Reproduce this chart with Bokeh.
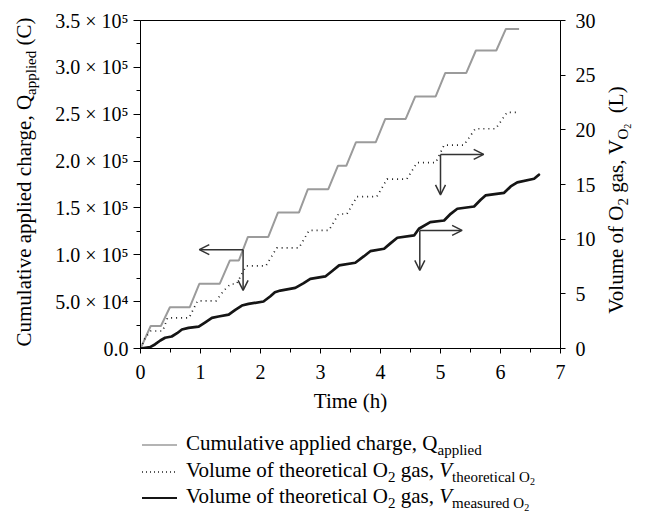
from bokeh.plotting import figure
from bokeh.layouts import row, column
from bokeh.models import Range1d, LinearAxis, FixedTicker, Arrow, OpenHead, Div
from bokeh.embed import file_html
from bokeh.resources import INLINE

# ---------------- data ----------------
time_q = [0, 0.17, 0.34, 0.49, 0.82, 0.98, 1.32, 1.49, 1.64, 1.79, 2.13, 2.29, 2.64, 2.79,
          3.13, 3.29, 3.43, 3.59, 3.92, 4.08, 4.42, 4.58, 4.92, 5.08, 5.43, 5.59, 5.93, 6.09, 6.31]
q_applied = [0, 24000, 24000, 44000, 44000, 69000, 69000, 94000, 94000, 119000, 119000,
             145000, 145000, 170000, 170000, 195000, 195000, 220000, 220000, 245000, 245000,
             269000, 269000, 294000, 294000, 318000, 318000, 341000, 341000]

time_theo = [0, 0.08, 0.17, 0.37, 0.45, 0.81, 0.95, 1.26, 1.39, 1.5, 1.6, 1.76, 2.09, 2.27,
             2.64, 2.81, 3.14, 3.3, 3.44, 3.61, 3.94, 4.11, 4.44, 4.61, 4.92, 5.06, 5.39,
             5.58, 5.92, 6.11, 6.28]
v_theoretical = [0, 1.0, 1.6, 1.6, 2.8, 2.8, 4.35, 4.35, 5.3, 5.9, 5.9, 7.55, 7.55, 9.2,
                 9.2, 10.8, 10.8, 12.3, 12.3, 13.9, 13.9, 15.5, 15.5, 17.0, 17.0, 18.6, 18.6,
                 20.1, 20.1, 21.6, 21.6]

time_meas = [0, 0.16, 0.24, 0.33, 0.41, 0.52, 0.61, 0.69, 0.8, 0.97, 1.08, 1.19, 1.3, 1.47,
             1.58, 1.69, 1.8, 2.05, 2.16, 2.24, 2.33, 2.58, 2.72, 2.83, 3.08, 3.19, 3.31, 3.58,
             3.72, 3.83, 4.06, 4.17, 4.28, 4.56, 4.64, 4.83, 5.06, 5.17, 5.28, 5.56, 5.67, 5.75,
             6.06, 6.17, 6.28, 6.56, 6.64]
v_measured = [0, 0.12, 0.37, 0.73, 0.98, 1.1, 1.4, 1.74, 1.89, 2.0, 2.4, 2.8, 2.93, 3.1,
              3.54, 3.93, 4.08, 4.3, 4.76, 5.15, 5.3, 5.55, 5.98, 6.37, 6.59, 7.07, 7.6, 7.84,
              8.42, 8.9, 9.12, 9.64, 10.13, 10.34, 10.95, 11.56, 11.71, 12.32, 12.78, 12.99,
              13.6, 14.0, 14.24, 14.82, 15.2, 15.53, 15.9]

time_ticks = [0, 1, 2, 3, 4, 5, 6, 7]
time_minor = [0.5, 1.5, 2.5, 3.5, 4.5, 5.5, 6.5]
q_ticks = [0, 50000, 100000, 150000, 200000, 250000, 300000, 350000]
q_minor = [25000, 75000, 125000, 175000, 225000, 275000, 325000]
q_tick_labels = ["0.0", "5.0 × 10⁴", "1.0 × 10⁵", "1.5 × 10⁵", "2.0 × 10⁵",
                 "2.5 × 10⁵", "3.0 × 10⁵", "3.5 × 10⁵"]
v_ticks = [0, 5, 10, 15, 20, 25, 30]

# arrow annotations: (corner time, corner value, horizontal end time, vertical end value)
arrow_q = (1.71, 105500, 0.98, 62000)
arrow_theo = (5.0, 17.75, 5.72, 14.05)
arrow_meas = (4.655, 10.8, 5.36, 7.14)

# ---------------- layout (page pixels) ----------------
FONT = "Liberation Serif"
PAGE_W, PAGE_H = 651, 518
LEFT_W, RIGHT_W = 44, 46
MAIN_W = PAGE_W - LEFT_W - RIGHT_W
TOP_H = 425
LEG_H = PAGE_H - TOP_H
FL, FR, FT, FB = 140, 560, 20, 348          # frame edges in page pixels

# ---------------- main chart ----------------
p = figure(width=MAIN_W, height=TOP_H, x_range=Range1d(0, 7), y_range=Range1d(0, 350000),
           output_backend="svg", toolbar_location=None,
           min_border_left=FL - LEFT_W, min_border_right=LEFT_W + MAIN_W - FR,
           min_border_top=FT, min_border_bottom=TOP_H - FB)
p.extra_y_ranges = {"v": Range1d(0, 30)}
p.xgrid.visible = False
p.ygrid.visible = False
p.outline_line_color = "black"
p.outline_line_width = 1
p.outline_line_alpha = 1
p.background_fill_color = "white"
p.border_fill_color = "white"


def style_axis(ax, tick_out, minor_out, standoff):
    ax.axis_line_color = "black"
    ax.axis_line_width = 1
    ax.major_tick_line_color = "black"
    ax.minor_tick_line_color = "black"
    ax.major_tick_in = 0
    ax.major_tick_out = tick_out
    ax.minor_tick_in = 0
    ax.minor_tick_out = minor_out
    ax.major_label_text_font = FONT
    ax.major_label_text_font_size = "20px"
    ax.major_label_text_color = "black"
    ax.major_label_standoff = standoff


xa = p.xaxis[0]
xa.ticker = FixedTicker(ticks=time_ticks, minor_ticks=time_minor)
style_axis(xa, 5, 4, 11)
xa.axis_label = "Time (h)"
xa.axis_label_text_font = FONT
xa.axis_label_text_font_size = "21px"
xa.axis_label_text_font_style = "normal"
xa.axis_label_text_color = "black"
xa.axis_label_standoff = 7

ya = p.yaxis[0]
ya.ticker = FixedTicker(ticks=q_ticks, minor_ticks=q_minor)
ya.major_label_overrides = dict(zip(q_ticks, q_tick_labels))
style_axis(ya, 7, 4, 5)

ra = LinearAxis(y_range_name="v", ticker=FixedTicker(ticks=v_ticks))
style_axis(ra, 5, 0, 10)
p.add_layout(ra, "right")

p.line(time_q, q_applied, line_color="#9b9b9b", line_width=2)
p.line(time_theo, v_theoretical, y_range_name="v", line_color="#1e1e1e",
       line_width=1.7, line_dash="1 4")
p.line(time_meas, v_measured, y_range_name="v", line_color="#151515",
       line_width=2.7, line_join="round", line_cap="round")

ARROW_C = "#333333"


def add_arrows(spec, range_name):
    ct, cv, ht, vv = spec
    kw = dict(line_color=ARROW_C, line_width=1.5)
    if range_name:
        kw["y_range_name"] = range_name
    for xe, ye in ((ht, cv), (ct, vv)):
        p.add_layout(Arrow(end=OpenHead(size=10, line_color=ARROW_C, line_width=1.5),
                           x_start=ct, y_start=cv, x_end=xe, y_end=ye, **kw))


add_arrows(arrow_q, None)
add_arrows(arrow_theo, "v")
add_arrows(arrow_meas, "v")

# ---------------- HTML text with sub-scripts ----------------
F, S, SS = 21, 15, 10
BASE = 17.6      # baseline offset from the top of a 21px line box
TEXT_CSS = (f"white-space:nowrap;font-family:'{FONT}';font-size:{F}px;"
            f"line-height:{F}px;color:black;")


def sub(t, size=S, drop=5):
    return (f'<span style="font-size:{size}px;position:relative;top:{drop}px;">'
            f'{t}</span>')


def rotated_title(inner, w, h, left, center_y):
    html = (f'<div style="position:relative;width:{w}px;height:{h}px;overflow:visible;">'
            f'<div style="position:absolute;left:{left:.1f}px;top:{center_y}px;'
            f'transform-origin:0 0;transform:rotate(-90deg) translateX(-50%);'
            f'{TEXT_CSS}">{inner}</div></div>')
    return Div(text=html, width=w, height=h, margin=0)


left_inner = "Cumulative applied charge, Q" + sub("applied") + " (C)"
right_inner = ("Volume of O" + sub("2") + " gas, V" +
               sub("O" + sub("2", SS, 3)) + "&nbsp; (L)")
left_div = rotated_title(left_inner, LEFT_W, TOP_H, 32 - BASE, 182)
right_div = rotated_title(right_inner, RIGHT_W, TOP_H, 624 - (PAGE_W - RIGHT_W) - BASE, 200)

# ---------------- legend ----------------
legend_texts = [
    "Cumulative applied charge, Q" + sub("applied"),
    "Volume of theoretical O" + sub("2") + " gas, <i>V</i>" +
    sub("theoretical O" + sub("2", SS, 3)),
    "Volume of theoretical O" + sub("2") + " gas, <i>V</i>" +
    sub("measured O" + sub("2", SS, 3)),
]
legend_strokes = [("#9b9b9b", 1.5, ""), ("#222222", 1.4, "1 3"), ("#151515", 2.0, "")]
row_y = [445, 472, 498]          # page y of each legend sample line
leg_html = [f'<div style="position:relative;width:{PAGE_W}px;height:{LEG_H}px;">']
for txt, (col, lw, dash), ly in zip(legend_texts, legend_strokes, row_y):
    y = ly - TOP_H
    dash_attr = f' stroke-dasharray="{dash}"' if dash else ""
    leg_html.append(
        f'<svg style="position:absolute;left:142px;top:{y - 3}px;" width="36" height="6">'
        f'<line x1="0" y1="3" x2="35" y2="3" stroke="{col}" stroke-width="{lw}"{dash_attr}/>'
        f'</svg>')
    leg_html.append(f'<div style="position:absolute;left:186px;top:{y + 6 - BASE:.1f}px;'
                    f'{TEXT_CSS}">{txt}</div>')
leg_html.append("</div>")
legend_div = Div(text="".join(leg_html), width=PAGE_W, height=LEG_H, margin=0)

layout = column(row(left_div, p, right_div, spacing=0), legend_div, spacing=0)
open("out.html", "w").write(file_html(layout, INLINE))
